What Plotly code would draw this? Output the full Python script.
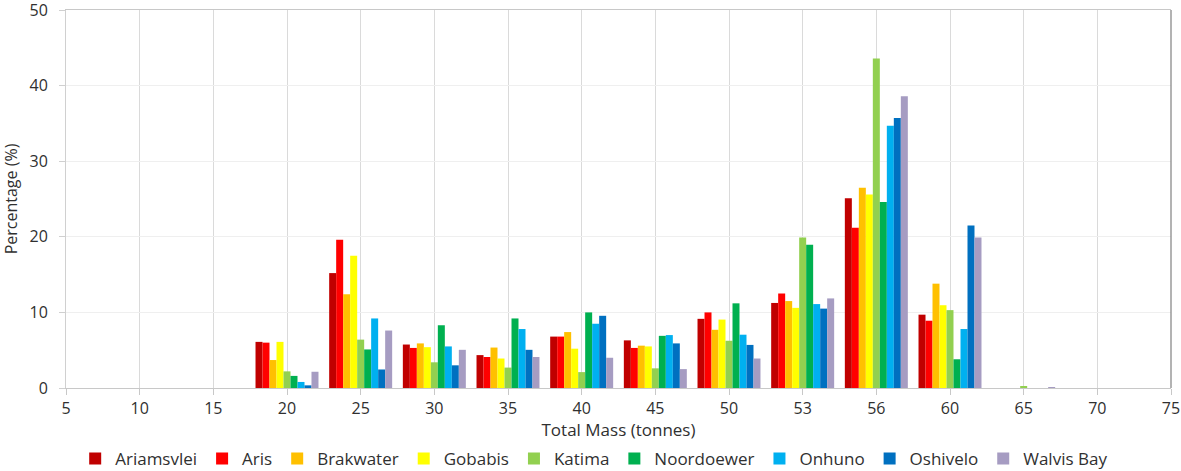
import plotly.graph_objects as go

categories = ["5", "10", "15", "20", "25", "30", "35", "40", "45", "50", "53", "56", "60", "65", "70", "75"]

ariamsvlei = [0, 0, 0, 6.1, 15.2, 5.75, 4.35, 6.8, 6.3, 9.15, 11.25, 25.1, 9.7, 0, 0, 0]
aris       = [0, 0, 0, 6.0, 19.6, 5.3, 4.1, 6.8, 5.3, 10.0, 12.5, 21.2, 8.9, 0, 0, 0]
brakwater  = [0, 0, 0, 3.7, 12.4, 5.9, 5.35, 7.4, 5.6, 7.7, 11.5, 26.5, 13.8, 0, 0, 0]
gobabis    = [0, 0, 0, 6.1, 17.5, 5.4, 3.9, 5.2, 5.5, 9.05, 10.6, 25.6, 10.95, 0, 0, 0]
katima     = [0, 0, 0, 2.2, 6.4, 3.4, 2.7, 2.1, 2.6, 6.25, 19.9, 43.6, 10.3, 0.15, 0, 0]
noordoewer = [0, 0, 0, 1.6, 5.1, 8.3, 9.2, 10.0, 6.9, 11.2, 18.95, 24.6, 3.8, 0, 0, 0]
onhuno     = [0, 0, 0, 0.8, 9.2, 5.5, 7.8, 8.5, 7.0, 7.05, 11.1, 34.7, 7.8, 0, 0, 0]
oshivelo   = [0, 0, 0, 0.35, 2.45, 3.0, 5.05, 9.55, 5.9, 5.7, 10.5, 35.7, 21.5, 0, 0, 0]
walvis_bay = [0, 0, 0, 2.15, 7.6, 5.05, 4.1, 4.0, 2.5, 3.9, 11.85, 38.6, 19.9, 0.08, 0, 0]

series = [
    ("Ariamsvlei", ariamsvlei, "#C00000"),
    ("Aris", aris, "#FF0000"),
    ("Brakwater", brakwater, "#FFC000"),
    ("Gobabis", gobabis, "#FFFF00"),
    ("Katima", katima, "#92D050"),
    ("Noordoewer", noordoewer, "#00B050"),
    ("Onhuno", onhuno, "#00B0F0"),
    ("Oshivelo", oshivelo, "#0070C0"),
    ("Walvis Bay", walvis_bay, "#A69CC2"),
]

fig = go.Figure()
for name, vals, color in series:
    fig.add_trace(go.Bar(x=categories, y=vals, name=name, marker_color=color,
                         marker_line_width=0))

font_family = "Open Sans, DejaVu Sans, sans-serif"
text_color = "#303030"
fig.update_layout(
    width=1181, height=471,
    barmode="group", bargap=0.145, bargroupgap=0,
    plot_bgcolor="white", paper_bgcolor="white",
    margin=dict(l=66, r=10, t=10, b=83, autoexpand=False),
    font=dict(family=font_family, size=16, color=text_color),
    legend=dict(orientation="h", x=0.478, xanchor="center",
                yref="container", y=12 / 471, yanchor="middle",
                font=dict(size=17, color=text_color),
                traceorder="normal"),
    xaxis=dict(
        type="category", categoryorder="array", categoryarray=categories,
        range=[0, 15], showgrid=True, gridcolor="#DADADA", gridwidth=1,
        showline=True, linecolor="#C8C8C8", mirror=True,
        ticks="outside", ticklen=6, tickcolor="#C8C8C8",
        ticklabeloverflow="allow",
        tickfont=dict(size=16, color=text_color),
        title=dict(text="Total Mass (tonnes)", font=dict(size=17, color=text_color), standoff=7),
    ),
    yaxis=dict(
        range=[0, 50], dtick=10, showgrid=True, gridcolor="#EFEFEF", gridwidth=1,
        showline=True, linecolor="#D0D0D0",
        ticks="outside", ticklen=6, tickcolor="#D0D0D0",
        ticklabeloverflow="allow", ticklabelstandoff=8,
        tickfont=dict(size=16, color=text_color),
        title=dict(text="Percentage (%)", font=dict(size=16, color=text_color), standoff=8),
        zeroline=False,
    ),
    shapes=[dict(type="line", xref="x domain", yref="y domain", x0=1, x1=1, y0=0, y1=1,
                 line=dict(color="#808080", width=1.2))],
)

fig.write_html("out.html", config={"displayModeBar": False},
               post_script="document.body.style.margin='0';document.body.style.overflow='hidden';")
